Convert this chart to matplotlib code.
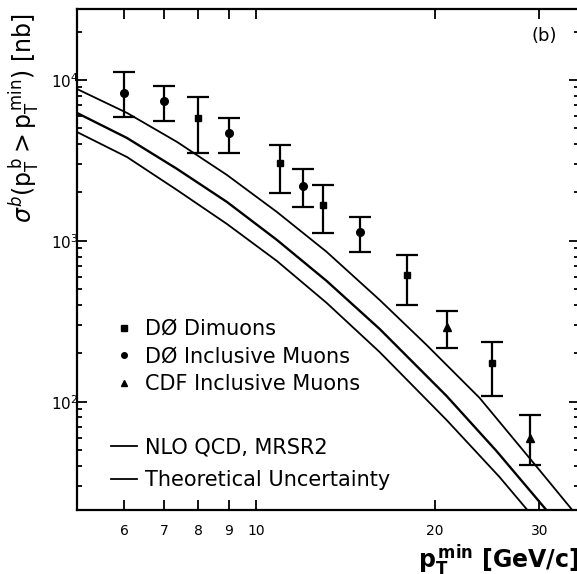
import matplotlib
matplotlib.use("Agg")
import matplotlib.pyplot as plt
from matplotlib.lines import Line2D
from matplotlib.ticker import FixedLocator, FixedFormatter, LogLocator, NullFormatter

# ---- data ----
dimuon_pt = [8, 11, 13, 18, 25]
dimuon_sigma = [5810, 3050, 1680, 615, 175]
dimuon_lo = [3520, 1990, 1120, 400, 109]
dimuon_hi = [7830, 3950, 2230, 819, 236]

incl_pt = [6, 7, 9, 12, 15]
incl_sigma = [8300, 7410, 4690, 2200, 1140]
incl_lo = [5890, 5560, 3520, 1630, 855]
incl_hi = [11200, 9180, 5810, 2800, 1410]

cdf_pt = [21, 29]
cdf_sigma = [292, 59.7]
cdf_lo = [216, 40.6]
cdf_hi = [368, 83]

upper_pt = [5.00, 6.07, 7.37, 8.94, 10.85, 13.16, 16.16, 19.38, 23.80, 30.01, 34.10]
upper_sigma = [8790, 6240, 4120, 2570, 1514, 855, 430, 226, 106, 37.8, 21.3]

central_pt = [5.00, 6.07, 7.37, 8.94, 10.85, 13.16, 16.16, 20.94, 25.41, 30.84]
central_sigma = [6240, 4360, 2800, 1747, 1015, 564, 284, 109, 49.6, 21.3]

lower_pt = [5.00, 6.07, 7.37, 8.94, 10.85, 13.16, 16.16, 20.94, 25.71, 28.65]
lower_sigma = [4750, 3320, 2070, 1275, 751, 412, 204, 77.3, 34.2, 21.3]

xtick_vals = [6, 7, 8, 9, 10, 20, 30]
xtick_labels = ["6", "7", "8", "9", "10", "20", "30"]

plt.rcParams['font.family'] = ['DejaVu Sans']
plt.rcParams['mathtext.fontset'] = 'dejavusans'

fig = plt.figure(figsize=(5.77, 5.74), dpi=100)
W, H = 577, 574
ax = fig.add_axes([77 / W, 1 - 510 / H, (579 - 77) / W, (510 - 9) / H])
ax.set_xscale('log')
ax.set_yscale('log')
ax.set_xlim(5, 35)
ax.set_ylim(21.3, 27600)

# theory curves
ax.plot(upper_pt, upper_sigma, color='black', lw=1.3)
ax.plot(central_pt, central_sigma, color='black', lw=1.7)
ax.plot(lower_pt, lower_sigma, color='black', lw=1.3)

def eb(pt, s, lo, hi, marker, ms):
    yerr = [[a - b for a, b in zip(s, lo)], [c - a for a, c in zip(s, hi)]]
    ax.errorbar(pt, s, yerr=yerr, fmt=marker, color='black', ms=ms,
                elinewidth=1.6, capsize=8, capthick=1.6, zorder=5)

eb(dimuon_pt, dimuon_sigma, dimuon_lo, dimuon_hi, 's', 5)
eb(incl_pt, incl_sigma, incl_lo, incl_hi, 'o', 5.5)
eb(cdf_pt, cdf_sigma, cdf_lo, cdf_hi, '^', 5.5)

# ticks
ax.xaxis.set_major_locator(FixedLocator(xtick_vals))
ax.xaxis.set_major_formatter(FixedFormatter(xtick_labels))
ax.xaxis.set_minor_locator(FixedLocator([]))
ax.yaxis.set_major_locator(LogLocator(base=10, numticks=10))
ax.yaxis.set_minor_locator(LogLocator(base=10, subs=range(2, 10), numticks=20))
ax.yaxis.set_minor_formatter(NullFormatter())
ax.tick_params(which='both', direction='in', top=True, right=True, width=1.3)
ax.tick_params(which='major', length=7)
ax.tick_params(which='minor', length=3.5)
ax.tick_params(axis='x', labelsize=10, pad=10)
ax.tick_params(axis='y', labelsize=11, pad=-1)
for s in ax.spines.values():
    s.set_linewidth(1.6)

ax.set_xlabel(r'$\mathbf{p_T^{\,min}}$ [GeV/c]', fontsize=17, fontweight='bold')
ax.xaxis.set_label_coords(1.0, -0.065)
ax.xaxis.label.set_horizontalalignment('right')
ax.set_ylabel(r'$\sigma^{b}(\mathrm{p_T^{\,b}} > \mathrm{p_T^{\,min}})$ [nb]', fontsize=17)
ax.yaxis.set_label_coords(-0.07, 0.782)

ax.text(0.906, 0.947, '(b)', transform=ax.transAxes, fontsize=13, ha='left', va='center')

# legends
h1 = [Line2D([], [], ls='none', marker='s', color='black', ms=4),
      Line2D([], [], ls='none', marker='o', color='black', ms=4),
      Line2D([], [], ls='none', marker='^', color='black', ms=4)]
l1 = ax.legend(h1, ['DØ Dimuons', 'DØ Inclusive Muons', 'CDF Inclusive Muons'],
               loc='upper left', bbox_to_anchor=(111 / W, 1 - 319 / H),
               bbox_transform=fig.transFigure, frameon=False, fontsize=15,
               handlelength=1.25, handletextpad=0.38, labelspacing=0.36,
               borderpad=0, borderaxespad=0)
ax.add_artist(l1)
h2 = [Line2D([], [], color='black', lw=1.3), Line2D([], [], color='black', lw=1.3)]
ax.legend(h2, ['NLO QCD, MRSR2', 'Theoretical Uncertainty'],
          loc='upper left', bbox_to_anchor=(111 / W, 1 - 437 / H),
          bbox_transform=fig.transFigure, frameon=False, fontsize=15,
          handlelength=1.25, handletextpad=0.38, labelspacing=0.62,
          borderpad=0, borderaxespad=0)

fig.savefig('out.png', dpi=100)
